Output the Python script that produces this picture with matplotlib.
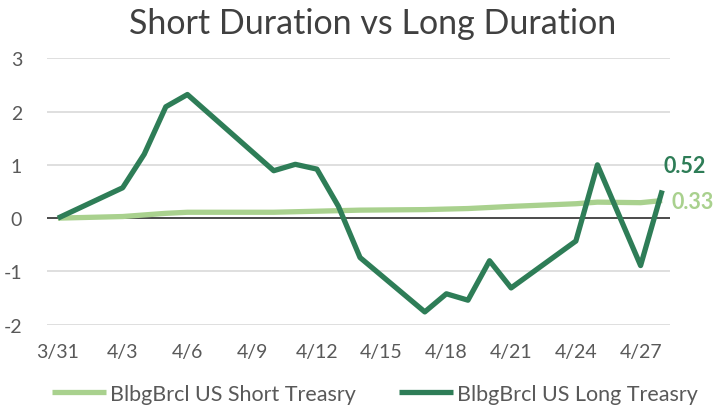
import matplotlib.pyplot as plt
import pandas as pd

plt.rcParams['font.family'] = ['Lato', 'DejaVu Sans']
plt.rcParams['axes.unicode_minus'] = False

dates = pd.to_datetime(['2020-03-31', '2020-04-03', '2020-04-04', '2020-04-05', '2020-04-06',
                        '2020-04-10', '2020-04-11', '2020-04-12', '2020-04-13', '2020-04-14',
                        '2020-04-17', '2020-04-18', '2020-04-19', '2020-04-20', '2020-04-21',
                        '2020-04-24', '2020-04-25', '2020-04-27', '2020-04-28'])
short_tsy = [0.00, 0.03, 0.06, 0.09, 0.11, 0.11, 0.12, 0.13, 0.14, 0.15,
             0.16, 0.17, 0.18, 0.20, 0.22, 0.27, 0.30, 0.29, 0.33]
long_tsy = [0.00, 0.57, 1.20, 2.09, 2.32, 0.89, 1.01, 0.92, 0.22, -0.74,
            -1.76, -1.42, -1.54, -0.80, -1.31, -0.43, 1.00, -0.89, 0.52]
tick_dates = pd.date_range('2020-03-31', '2020-04-27', freq='3D')
tick_labels = ['3/31', '4/3', '4/6', '4/9', '4/12', '4/15', '4/18', '4/21', '4/24', '4/27']

colors = {'short': '#A9D18E', 'long': '#2E7D57', 'text': '#595959', 'grid': '#D9D9D9'}

fig = plt.figure(figsize=(7.14, 4.14), dpi=100)
ax = fig.add_axes([0.066, 0.2133, 0.872, 0.6435])

ax.plot(dates, short_tsy, color=colors['short'], linewidth=3.8, solid_capstyle='butt',
        label='BlbgBrcl US Short Treasry', zorder=3)
ax.plot(dates, long_tsy, color=colors['long'], linewidth=3.8, solid_capstyle='butt',
        label='BlbgBrcl US Long Treasry', zorder=4)
ax.axhline(0, color='#404040', linewidth=1.3, zorder=2)

ax.set_ylim(-2, 3)
ax.set_yticks([-2, -1, 0, 1, 2, 3])
ax.set_xlim(dates[0] - pd.Timedelta(hours=12), dates[0] + pd.Timedelta(days=28.35))
ax.set_xticks(tick_dates)
ax.set_xticklabels(tick_labels)
ax.grid(True, axis='y', color=colors['grid'], linewidth=1.2, zorder=0)
ax.grid(False, axis='x')
for s in ax.spines.values():
    s.set_visible(False)
ax.tick_params(length=0, labelsize=14, labelcolor=colors['text'])
ax.tick_params(axis='x', pad=13)
ax.tick_params(axis='y', pad=18)

ax.text(dates[-1] + pd.Timedelta(hours=2), long_tsy[-1] + 0.46, f'{long_tsy[-1]:.2f}',
        color=colors['long'], fontsize=15.5, fontweight='bold', va='center', ha='left')
ax.text(dates[-1] + pd.Timedelta(hours=10), short_tsy[-1] - 0.02, f'{short_tsy[-1]:.2f}',
        color=colors['short'], fontsize=15.5, fontweight='bold', va='center', ha='left')

fig.suptitle('Short Duration vs Long Duration', fontsize=24.5, color='#404040',
             x=0.522, y=0.98)
fig.legend(loc='lower center', ncol=2, frameon=False, fontsize=15.5, handlelength=2.5,
           columnspacing=2.0, handletextpad=0.2, labelcolor=colors['text'],
           bbox_to_anchor=(0.525, -0.025))

fig.savefig('out.png', dpi=100)
